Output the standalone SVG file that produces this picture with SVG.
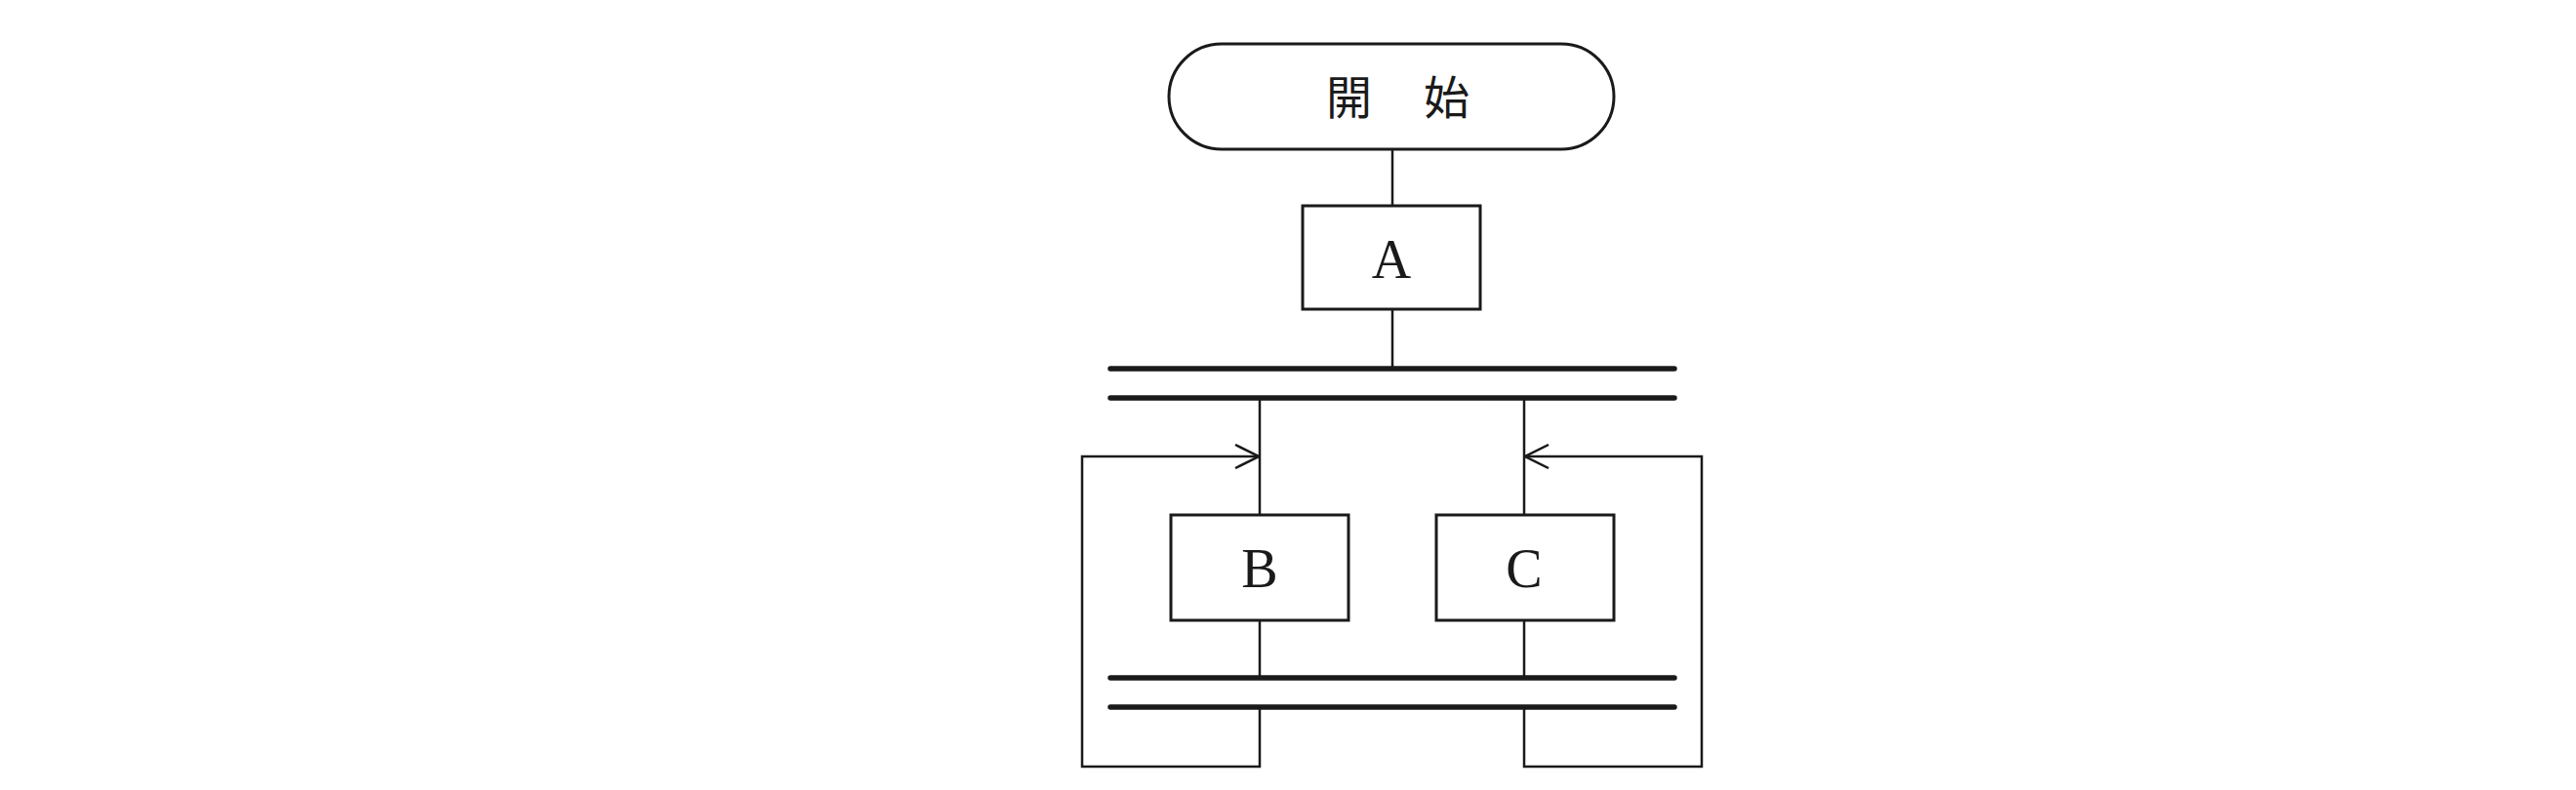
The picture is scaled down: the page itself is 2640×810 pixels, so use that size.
<svg xmlns="http://www.w3.org/2000/svg" width="2640" height="810" viewBox="0 0 2640 810">
<style>
.shape{fill:#fff;stroke:#1a1a1a;stroke-width:3}
.line{fill:none;stroke:#1a1a1a;stroke-width:2.5}
.bar{fill:none;stroke:#1a1a1a;stroke-width:5.5;stroke-linecap:round}
.lbl{font-family:"Liberation Serif","Noto Serif",serif;font-size:56px;fill:#1a1a1a;text-anchor:middle}
.jp{font-family:"Noto Sans CJK JP","Noto Sans CJK SC",sans-serif;font-size:47px;fill:#1a1a1a;text-anchor:middle;letter-spacing:3px}
</style>
<defs>
<marker id="arr" viewBox="0 0 26 26" refX="25" refY="13" markerWidth="26" markerHeight="26" markerUnits="userSpaceOnUse" orient="auto">
<path d="M1,1 L25,13 L1,25" fill="none" stroke="#1a1a1a" stroke-width="2.5"/>
</marker>
</defs>
<rect width="2640" height="810" fill="#fff"/>
<g id="connectors">
<line class="line" x1="1427" y1="153" x2="1427" y2="211"/>
<line class="line" x1="1427" y1="317" x2="1427" y2="378"/>
<line class="line" x1="1291" y1="408" x2="1291" y2="528"/>
<line class="line" x1="1562" y1="408" x2="1562" y2="528"/>
<line class="line" x1="1291" y1="636" x2="1291" y2="695"/>
<line class="line" x1="1562" y1="636" x2="1562" y2="695"/>
<polyline class="line" points="1291,725 1291,786 1109,786 1109,468 1290,468" marker-end="url(#arr)"/>
<polyline class="line" points="1562,725 1562,786 1744,786 1744,468 1563,468" marker-end="url(#arr)"/>
</g>
<g id="bars">
<line class="bar" x1="1138" y1="378" x2="1716" y2="378"/>
<line class="bar" x1="1138" y1="408" x2="1716" y2="408"/>
<line class="bar" x1="1138" y1="695" x2="1716" y2="695"/>
<line class="bar" x1="1138" y1="725" x2="1716" y2="725"/>
</g>
<g id="start">
<path class="shape" d="M1252,45 H1600 A54,54 0 0 1 1600,153 H1252 A54,54 0 0 1 1252,45 Z"/>
<text class="jp" x="1434" y="117">開　始</text>
</g>
<g id="nodeA">
<rect class="shape" x="1335" y="211" width="182" height="106"/>
<text class="lbl" x="1426" y="285">A</text>
</g>
<g id="nodeB">
<rect class="shape" x="1200" y="528" width="182" height="108"/>
<text class="lbl" x="1291" y="602">B</text>
</g>
<g id="nodeC">
<rect class="shape" x="1472" y="528" width="182" height="108"/>
<text class="lbl" x="1562" y="602">C</text>
</g>
</svg>
